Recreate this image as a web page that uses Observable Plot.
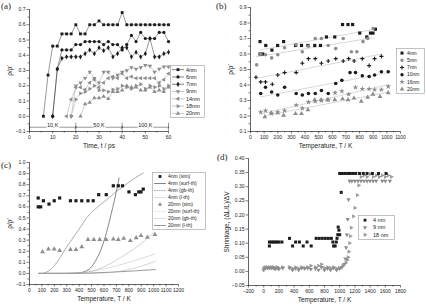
<!DOCTYPE html>
<html><head><meta charset="utf-8">
<script src="https://cdn.jsdelivr.net/npm/d3@7"></script>
<script src="https://cdn.jsdelivr.net/npm/@observablehq/plot@0.6"></script>
<style>
body{margin:0;background:#fff;}
#fig{position:relative;width:426px;height:304px;overflow:hidden;background:#fff;}
#fig svg{position:absolute;}
.plabel{position:absolute;font-family:"Liberation Serif",serif;font-size:9px;color:#222;}
g[aria-label="x-axis label"] text, g[aria-label="y-axis label"] text{font-size:6.5px;}
</style></head><body><div id="fig"></div>
<script>
// ---------- Panel (a): time series ----------
const tA4 = [6,8,10,12,14,16,18,20,22,24,26,28,30,32,34,36,38,40,42,44,46,48,50,52,54,56,58,60];
const vA4 = [0,0.27,0.46,0.46,0.54,0.54,0.54,0.60,0.54,0.54,0.60,0.60,0.625,0.60,0.60,0.60,0.60,0.68,0.60,0.60,0.60,0.60,0.60,0.60,0.60,0.60,0.60,0.60];
const tA6 = [10,12,14,16,18,20,22,24,26,28,30,32,34,36,38,40,42,44,46,48,50,52,54,56,58,60];
const vA6 = [0,0.31,0.435,0.435,0.435,0.47,0.47,0.49,0.49,0.49,0.49,0.47,0.49,0.47,0.47,0.435,0.47,0.53,0.49,0.55,0.51,0.51,0.51,0.55,0.55,0.49];
const tA7 = [10,12,14,16,18,20,22,24,26,28,30,32,34,36,38,40,42,44,46,48,50,52,54,56,58,60];
const vA7 = [0,0.31,0.38,0.39,0.39,0.39,0.39,0.41,0.435,0.41,0.45,0.43,0.45,0.39,0.41,0.45,0.45,0.39,0.42,0.39,0.41,0.51,0.39,0.39,0.41,0.42];
const tA9 = [18,20,22,24,26,28,30,32,34,36,38,40,42,44,46,48,50,52,54,56,58,60];
const vA9 = [0,0.20,0.22,0.25,0.29,0.25,0.22,0.29,0.29,0.25,0.27,0.29,0.30,0.32,0.31,0.32,0.335,0.33,0.29,0.31,0.325,0.325];
const tA14 = [16,18,20,22,24,26,28,30,32,34,36,38,40,42,44,46,48,50,52,54,56,58,60];
const vA14 = [0,0.11,0.19,0.19,0.175,0.22,0.24,0.19,0.22,0.25,0.26,0.25,0.28,0.25,0.26,0.25,0.25,0.25,0.25,0.25,0.22,0.24,0.28];
const tA18 = [18,20,22,24,26,28,30,32,34,36,38,40,42,44,46,48,50,52,54,56,58,60];
const vA18 = [0,0.11,0.15,0.16,0.18,0.20,0.17,0.17,0.16,0.175,0.18,0.20,0.19,0.18,0.20,0.21,0.18,0.20,0.19,0.20,0.18,0.20];
const tA20 = [22,24,26,28,30,32,34,36,38,40,42,44,46,48,50,52,54,56,58,60];
const vA20 = [0,0.08,0.09,0.12,0.12,0.13,0.115,0.16,0.16,0.17,0.20,0.19,0.19,0.17,0.17,0.19,0.16,0.17,0.16,0.19];
const regimeLabel = ["10 K","50 K","100 K"];
const regimeFrom = [0,20,40];
const regimeTo = [20,40,60];

// ---------- Panel (b) & (c): simulation vs temperature ----------
const TB4 = [70,70,90,112,157,199,243,330,374,421,471,513,557,618,675,715,749,801,853,880,898,916];
const VB4 = [0.68,0.60,0.60,0.655,0.625,0.655,0.68,0.655,0.655,0.655,0.655,0.655,0.71,0.71,0.79,0.79,0.79,0.735,0.71,0.735,0.735,0.76];
const TB5 = [45,75,110,155,200,250,335,380,425,475,520,570,625,680,740,780,825,860,900];
const VB5 = [0.53,0.60,0.595,0.575,0.595,0.64,0.66,0.615,0.65,0.70,0.70,0.655,0.635,0.70,0.615,0.615,0.68,0.70,0.765];
const TB7 = [40,75,110,160,200,250,335,380,425,475,520,570,625,680,720,760,820,870,910,960];
const VB7 = [0.45,0.42,0.42,0.405,0.465,0.48,0.48,0.54,0.57,0.57,0.54,0.555,0.57,0.555,0.57,0.555,0.57,0.525,0.57,0.585];
const TB10 = [75,110,155,200,250,335,380,425,475,520,570,625,670,730,770,820,870,910,960,1010];
const VB10 = [0.345,0.385,0.355,0.335,0.385,0.345,0.335,0.345,0.345,0.365,0.345,0.41,0.43,0.48,0.48,0.46,0.455,0.465,0.485,0.485];
const TB16 = [75,110,155,200,250,335,380,425,475,520,570,620,670,720,770,820,870,910,960,1010];
const VB16 = [0.225,0.235,0.215,0.225,0.235,0.27,0.25,0.29,0.295,0.30,0.305,0.35,0.36,0.34,0.385,0.375,0.375,0.37,0.37,0.39];
const TB20 = [105,152,199,243,330,374,421,471,518,565,618,675,715,759,812,859,898,950,1010];
const VB20 = [0.195,0.22,0.22,0.205,0.215,0.215,0.24,0.305,0.305,0.305,0.305,0.31,0.305,0.315,0.295,0.32,0.34,0.325,0.35];

// theory curves (c)
const TC4s = [75,200,300,400,450,492,530,570,610,650,690,722];
const VC4s = [0,0,0,0.005,0.02,0.05,0.11,0.2,0.33,0.5,0.69,0.86];
const TC4g = [75,100,150,200,250,300,350,400,460,500,550,600,660,700,750,800,850,916];
const VC4g = [0,0,0.02,0.07,0.15,0.24,0.32,0.40,0.50,0.55,0.60,0.645,0.70,0.74,0.78,0.82,0.86,0.905];
const TC4l = [75,300,1010];
const VC4l = [0,0,0.175];
const TC20s = [75,500,600,700,800,900,1015];
const VC20s = [0,0,0.005,0.015,0.035,0.065,0.11];
const TC20g = [75,400,500,600,700,800,900,1000];
const VC20g = [0,0.005,0.02,0.06,0.12,0.19,0.27,0.37];
const TC20l = [75,300,1015];
const VC20l = [0,0,0.035];

// ---------- Panel (d): shrinkage ----------
const TD4 = [75,75,100,125,150,175,200,240, 340,380,420,470,520,570,625, 690,730,770,810,850,890, 910,920,940,955,965,975,980,990,1000, 1020, 1000,1035,1070,1105,1140,1175,1210,1260,1310,1360,1430,1510,1610];
const VD4 = [0.09,0.104,0.104,0.104,0.104,0.104,0.104,0.104, 0.117,0.09,0.104,0.104,0.09,0.104,0.09, 0.117,0.117,0.117,0.117,0.117,0.117, 0.104,0.09,0.09,0.104,0.117,0.13,0.157,0.146,0.13, 0.28, 0.347,0.347,0.347,0.347,0.347,0.347,0.347,0.347,0.347,0.347,0.347,0.347,0.347];
const TD9 = [0,25,50,75,100,125,150,175,200,250, 340,380,420,460,500,540,580,620, 680,720,760,800,840,880,920,960,1000,1030,1060, 1075,1085,1095,1105,1115,1130, 1160,1200,1240,1280,1320,1360,1400,1440,1480,1560,1600,1660];
const VD9 = [0.005,0.012,0.012,0.012,0.012,0.012,0.008,0.012,0.008,0.012, 0.012,0.005,0.010,0.005,0.012,0.010,0.012,0.008, 0.010,0.005,0.015,0.005,0.010,0.005,0.012,0.005,0.010,0.015,0.025, 0.045,0.085,0.13,0.185,0.255,0.32, 0.32,0.32,0.32,0.32,0.32,0.32,0.32,0.32,0.32,0.32,0.32,0.32];
const TD18 = [0,25,50,75,100,125,150,175,200,250, 340,380,420,460,500,540,580,620, 680,720,760,800,840,880,920,960,1000,1040,1080, 1100,1110,1120,1130,1140,1150,1180,1200,1230,1250, 1280,1320,1360,1400,1440,1480,1520,1560,1600,1640,1680];
const VD18 = [0.012,0.015,0.015,0.015,0.015,0.015,0.012,0.015,0.012,0.015, 0.015,0.010,0.015,0.010,0.015,0.012,0.015,0.020, 0.015,0.020,0.025,0.012,0.015,0.012,0.015,0.010,0.012,0.020,0.030, 0.04,0.05,0.07,0.10,0.125,0.155,0.195,0.225,0.27,0.305, 0.335,0.34,0.335,0.345,0.335,0.34,0.335,0.34,0.335,0.34,0.335];

// ---------- helpers ----------
const DARK = "#1c1c1c", GRAY = "#8d8d8d";
const FONT = "'Liberation Sans', Arial, sans-serif";
const fig = document.getElementById("fig");
const rows = (xs, ys) => xs.map((x, i) => ({x, y: ys[i]}));

function panel(left, top, o) {
  const svg = Plot.plot({
    width: 213, height: 152,
    marginTop: o.m[0], marginRight: o.m[1], marginBottom: o.m[2], marginLeft: o.m[3],
    style: {fontFamily: FONT, fontSize: "5px", color: "#222", background: "transparent", overflow: "visible"},
    x: {domain: o.x}, y: {domain: o.y},
    marks: [
      Plot.axisX({ticks: o.xMinor, tickSize: 1.5, tickFormat: () => "", label: null, strokeWidth: 0.6}),
      Plot.axisX({ticks: o.xTicks, tickSize: 2.5, tickPadding: 1.5, tickFormat: o.xFmt, strokeWidth: 0.6,
        label: o.xLabel, labelAnchor: "center", labelArrow: "none", labelOffset: 16}),
      Plot.axisY({ticks: o.yMinor, tickSize: 1.5, tickFormat: () => "", label: null, strokeWidth: 0.6}),
      Plot.axisY({ticks: o.yTicks, tickSize: 2.5, tickPadding: 1.5, tickFormat: o.yFmt, strokeWidth: 0.6,
        label: o.yLabel, labelAnchor: "center", labelArrow: "none", labelOffset: o.yOff ?? 20}),
      Plot.ruleX([o.x[0]], {stroke: "#222", strokeWidth: 0.7}),
      Plot.ruleY([o.y[0]], {stroke: "#222", strokeWidth: 0.7}),
      ...o.marks
    ]
  });
  svg.style.left = left + "px"; svg.style.top = top + "px";
  fig.appendChild(svg);
}

const symType = {square: d3.symbolSquare, circle: d3.symbolCircle, triangle: d3.symbolTriangle,
  plus: d3.symbolPlus, star: d3.symbolStar, diamond: d3.symbolDiamond};

function legend(b, items) {
  const svg = d3.create("svg").attr("width", b.w).attr("height", b.h)
    .style("left", b.x + "px").style("top", b.y + "px");
  svg.append("rect").attr("x", 0.5).attr("y", 0.5).attr("width", b.w - 1).attr("height", b.h - 1)
    .attr("fill", "#fff").attr("stroke", "#9a9a9a").attr("stroke-width", 0.6);
  items.forEach((it, i) => {
    const cy = b.pad + b.rowH * (i + 0.5);
    if (it.line) svg.append("line").attr("x1", b.l1).attr("x2", b.l2).attr("y1", cy).attr("y2", cy)
      .attr("stroke", it.line).attr("stroke-width", it.lw || 0.6).attr("stroke-dasharray", it.dash || null);
    if (it.symbol) {
      const p = svg.append("path").attr("d", d3.symbol(symType[it.symbol], Math.PI * it.r * it.r)())
        .attr("transform", `translate(${(b.l1 + b.l2) / 2},${cy}) rotate(${it.rotate || 0})`);
      if (it.symbol === "plus") p.attr("fill", "none").attr("stroke", it.color).attr("stroke-width", 1.1);
      else p.attr("fill", it.color);
    }
    svg.append("text").attr("x", b.tx).attr("y", cy).attr("dy", "0.35em").attr("fill", "#222")
      .attr("font-family", FONT).attr("font-size", b.fs).text(it.label);
  });
  fig.appendChild(svg.node());
}

function plabel(text, x, y) {
  const d = document.createElement("div");
  d.className = "plabel"; d.textContent = text;
  d.style.left = x + "px"; d.style.top = y + "px";
  fig.appendChild(d);
}

// ---------- (a) ----------
const seriesA = [
  {label: "4nm", t: tA4, v: vA4, sym: "square", c: DARK, rot: 0},
  {label: "6nm", t: tA6, v: vA6, sym: "circle", c: DARK, rot: 0},
  {label: "7nm", t: tA7, v: vA7, sym: "diamond", c: DARK, rot: 0},
  {label: "9nm", t: tA9, v: vA9, sym: "triangle", c: GRAY, rot: 180},
  {label: "14nm", t: tA14, v: vA14, sym: "triangle", c: GRAY, rot: -90},
  {label: "18nm", t: tA18, v: vA18, sym: "triangle", c: GRAY, rot: 90},
  {label: "20nm", t: tA20, v: vA20, sym: "triangle", c: GRAY, rot: 0}
];
const regimes = regimeLabel.map((l, i) => ({l, a: regimeFrom[i], b: regimeTo[i], mid: (regimeFrom[i] + regimeTo[i]) / 2}));
panel(0, 0, {
  m: [9, 45, 21, 29], x: [0, 60], y: [-0.1, 0.7],
  xTicks: [0, 10, 20, 30, 40, 50, 60], xMinor: [5, 15, 25, 35, 45, 55],
  yTicks: [-0.1, 0, 0.1, 0.2, 0.3, 0.4, 0.5, 0.6, 0.7], yMinor: [-0.05, 0.05, 0.15, 0.25, 0.35, 0.45, 0.55, 0.65],
  yFmt: d3.format(".1f"), xFmt: d3.format("d"), xLabel: "Time, t / ps", yLabel: "ρ/ρ′", yOff: 22,
  marks: [
    ...seriesA.flatMap(s => [
      Plot.line(rows(s.t, s.v), {x: "x", y: "y", stroke: s.c === DARK ? "#333" : "#a5a5a5", strokeWidth: 0.5}),
      Plot.dot(rows(s.t, s.v), {x: "x", y: "y", symbol: s.sym, fill: s.c, r: 1.6, rotate: s.rot})
    ]),
    Plot.ruleX([0, 20, 40, 60], {y1: -0.1, y2: -0.045, stroke: "#333", strokeWidth: 0.5}),
    Plot.link(regimes, {x1: "a", x2: "b", y1: -0.072, y2: -0.072, stroke: "#333", strokeWidth: 0.5, markerStart: "arrow", markerEnd: "arrow"}),
    Plot.text(regimes, {x: "mid", y: -0.062, text: "l", fontSize: 5.5, fill: "#222", stroke: "white", strokeWidth: 2})
  ]
});
legend({x: 170, y: 65, w: 35, h: 53, pad: 1, rowH: 7.3, l1: 2, l2: 14, tx: 16, fs: 5.5},
  seriesA.map(s => ({label: s.label, line: s.c === DARK ? "#333" : "#a5a5a5", symbol: s.sym, color: s.c, r: 1.6, rotate: s.rot})));

// ---------- (b) ----------
const seriesB = [
  {label: "4nm", t: TB4, v: VB4, sym: "square", c: DARK},
  {label: "5nm", t: TB5, v: VB5, sym: "circle", c: GRAY},
  {label: "7nm", t: TB7, v: VB7, sym: "plus", c: DARK},
  {label: "10nm", t: TB10, v: VB10, sym: "circle", c: DARK},
  {label: "16nm", t: TB16, v: VB16, sym: "star", c: GRAY},
  {label: "20nm", t: TB20, v: VB20, sym: "triangle", c: GRAY}
];
panel(213, 0, {
  m: [7, 26, 21, 37], x: [0, 1100], y: [0.1, 0.9],
  xTicks: d3.range(0, 1101, 100), xMinor: d3.range(50, 1100, 100),
  yTicks: [0.1, 0.2, 0.3, 0.4, 0.5, 0.6, 0.7, 0.8, 0.9], yMinor: [0.15, 0.25, 0.35, 0.45, 0.55, 0.65, 0.75, 0.85],
  yFmt: d3.format(".1f"), xFmt: d3.format("d"), xLabel: "Temperature, T / K", yLabel: "ρ/ρ′", yOff: 22,
  marks: [
    ...seriesB.map(s => Plot.linearRegressionY(rows(s.t, s.v), {x: "x", y: "y", stroke: "#bdbdbd", strokeWidth: 0.6, ci: 0})),
    ...seriesB.map(s => s.sym === "plus"
      ? Plot.dot(rows(s.t, s.v), {x: "x", y: "y", symbol: "plus", stroke: s.c, strokeWidth: 1.1, r: 1.4})
      : Plot.dot(rows(s.t, s.v), {x: "x", y: "y", symbol: s.sym, fill: s.c, r: 1.8}))
  ]
});
legend({x: 396, y: 48, w: 29, h: 46, pad: 1.5, rowH: 7.2, l1: 3, l2: 9, tx: 11, fs: 5},
  seriesB.map(s => ({label: s.label, symbol: s.sym, color: s.c, r: s.sym === "plus" ? 1.4 : 1.7})));

// ---------- (c) ----------
const curvesC = [
  {label: "4nm (surf-th)", t: TC4s, v: VC4s, c: "#555", dash: null, w: 0.7},
  {label: "4nm (gb-th)", t: TC4g, v: VC4g, c: "#666", dash: "1.5,1", w: 0.6},
  {label: "4nm (l-th)", t: TC4l, v: VC4l, c: "#c4c4c4", dash: null, w: 0.6},
  {label: "20nm (surf-th)", t: TC20s, v: VC20s, c: "#b5b5b5", dash: "0.6,0.8", w: 0.6},
  {label: "20nm (gb-th)", t: TC20g, v: VC20g, c: "#ababab", dash: "1.5,1", w: 0.6},
  {label: "20nm (l-th)", t: TC20l, v: VC20l, c: "#9c9c9c", dash: null, w: 1}
];
panel(0, 152, {
  m: [10, 35, 20, 29], x: [0, 1200], y: [-0.1, 1.0],
  xTicks: d3.range(0, 1201, 100), xMinor: d3.range(50, 1200, 100),
  yTicks: [-0.1, 0, 0.1, 0.2, 0.3, 0.4, 0.5, 0.6, 0.7, 0.8, 0.9, 1.0], yMinor: [-0.05, 0.05, 0.15, 0.25, 0.35, 0.45, 0.55, 0.65, 0.75, 0.85, 0.95],
  yFmt: d3.format(".1f"), xFmt: d3.format("d"), xLabel: "Temperature, T / K", yLabel: "ρ/ρ′", yOff: 22,
  marks: [
    ...curvesC.map(c => Plot.line(rows(c.t, c.v), {x: "x", y: "y", stroke: c.c, strokeWidth: c.w, strokeDasharray: c.dash, curve: "monotone-x"})),
    Plot.dot(rows(TB4, VB4), {x: "x", y: "y", symbol: "square", fill: DARK, r: 1.8}),
    Plot.dot(rows(TB20, VB20), {x: "x", y: "y", symbol: "triangle", fill: GRAY, r: 1.8})
  ]
});
legend({x: 152, y: 172, w: 54, h: 58, pad: 1, rowH: 7, l1: 2, l2: 14, tx: 16, fs: 5}, [
  {label: "4nm (sim)", symbol: "square", color: DARK, r: 1.6},
  ...curvesC.slice(0, 3).map(c => ({label: c.label, line: c.c, dash: c.dash, lw: c.w})),
  {label: "20nm (sim)", symbol: "triangle", color: GRAY, r: 1.6},
  ...curvesC.slice(3).map(c => ({label: c.label, line: c.c, dash: c.dash, lw: c.w}))
]);

// ---------- (d) ----------
panel(213, 152, {
  m: [6, 26, 19, 35], x: [-200, 1800], y: [-0.05, 0.40],
  xTicks: d3.range(-200, 1801, 200), xMinor: d3.range(-100, 1800, 200),
  yTicks: [-0.05, 0, 0.05, 0.1, 0.15, 0.2, 0.25, 0.3, 0.35, 0.4], yMinor: [],
  yFmt: d3.format(".2f"), xFmt: d3.format("d"), xLabel: "Temperature, T / K", yLabel: "Shrinkage, (ΔL/L)/ΔV", yOff: 24,
  marks: [
    Plot.dot(rows(TD18, VD18), {x: "x", y: "y", symbol: "triangle", fill: "#9a9a9a", r: 1.6, rotate: 90}),
    Plot.dot(rows(TD9, VD9), {x: "x", y: "y", symbol: "triangle", fill: GRAY, r: 1.6, rotate: 180}),
    Plot.dot(rows(TD4, VD4), {x: "x", y: "y", symbol: "square", fill: DARK, r: 1.7})
  ]
});
legend({x: 358, y: 215, w: 37, h: 25, pad: 1.5, rowH: 7.3, l1: 4, l2: 10, tx: 15, fs: 5.5}, [
  {label: "4 nm", symbol: "square", color: DARK, r: 1.6},
  {label: "9 nm", symbol: "triangle", color: GRAY, r: 1.6, rotate: 180},
  {label: "18 nm", symbol: "triangle", color: "#9a9a9a", r: 1.6, rotate: 90}
]);

plabel("(a)", 1, 1);
plabel("(b)", 216, 1);
plabel("(c)", 1, 160);
plabel("(d)", 217, 152);
</script></body></html>
